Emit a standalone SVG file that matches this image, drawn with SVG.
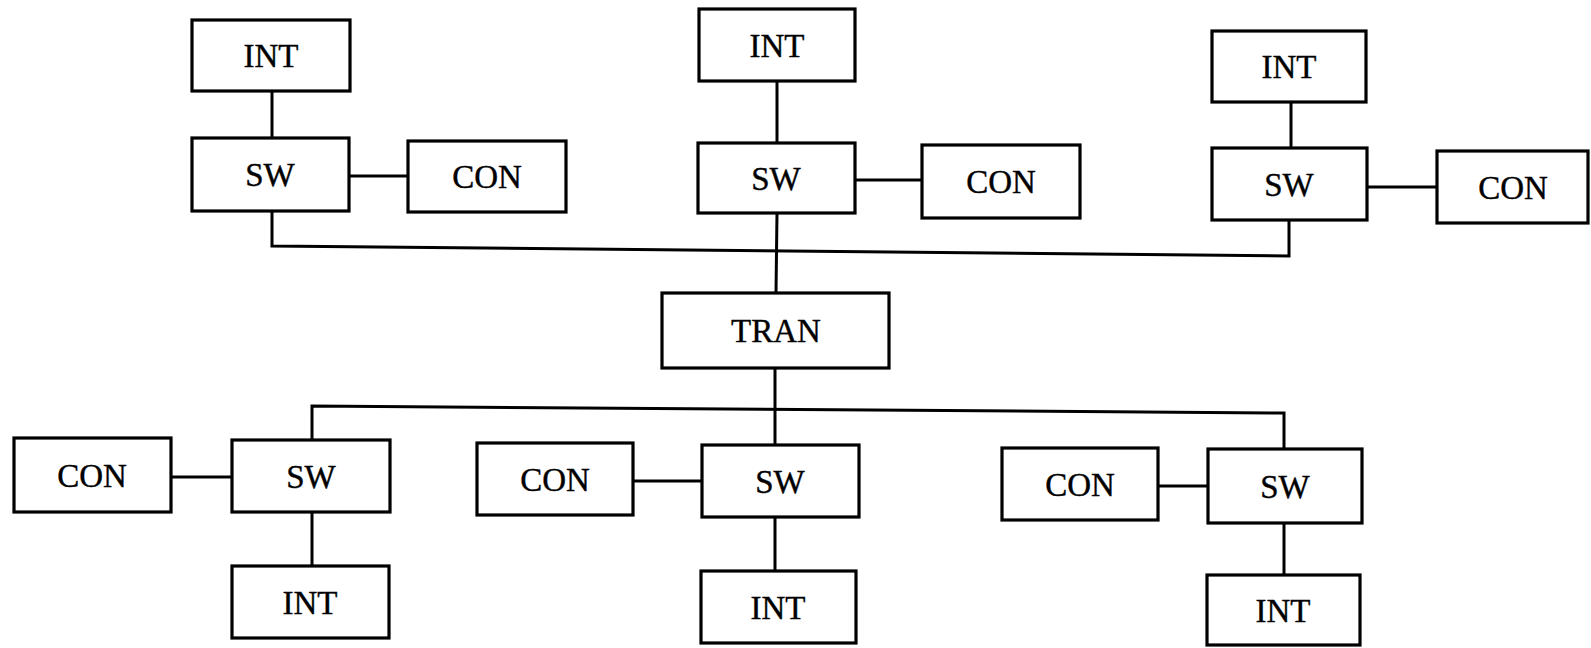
<svg xmlns="http://www.w3.org/2000/svg" width="1591" height="648" viewBox="0 0 1591 648">
  <style>
    .box { fill: #fff; stroke: #000; stroke-width: 3.2; }
    .lbl { font-family: "Liberation Serif", "Times New Roman", serif; font-size: 33px; fill: #000; stroke: #000; stroke-width: 0.4; text-anchor: middle; }
    .wire { fill: none; stroke: #000; stroke-width: 3; stroke-linejoin: miter; }
  </style>
  <rect width="1591" height="648" fill="#fff"/>

  <!-- links between units -->
  <g id="connectors">
    <line class="wire" x1="272" y1="91" x2="272" y2="138"/>
    <line class="wire" x1="349" y1="176" x2="408" y2="176"/>
    <line class="wire" x1="777" y1="81" x2="777" y2="143"/>
    <line class="wire" x1="855" y1="180" x2="922" y2="180"/>
    <line class="wire" x1="1291" y1="102" x2="1291" y2="148"/>
    <line class="wire" x1="1367" y1="187" x2="1437" y2="187"/>
    <!-- upper bus -->
    <polyline class="wire" points="272,211 272,246 1289,256 1289,220"/>
    <line class="wire" x1="777" y1="213" x2="776" y2="293"/>
    <line class="wire" x1="775" y1="368" x2="775" y2="445"/>
    <!-- lower bus -->
    <polyline class="wire" points="312,440 312,406 1284,413 1284,449"/>
    <line class="wire" x1="171" y1="477" x2="232" y2="477"/>
    <line class="wire" x1="312" y1="512" x2="312" y2="566"/>
    <line class="wire" x1="633" y1="481" x2="702" y2="481"/>
    <line class="wire" x1="775" y1="517" x2="775" y2="571"/>
    <line class="wire" x1="1158" y1="486" x2="1208" y2="486"/>
    <line class="wire" x1="1284" y1="523" x2="1284" y2="575"/>
  </g>

  <g id="int1"><rect class="box" x="192" y="20" width="158" height="71"/><text class="lbl" x="271" y="67">INT</text></g>
  <g id="sw1"><rect class="box" x="192" y="138" width="157" height="73"/><text class="lbl" x="270" y="186">SW</text></g>
  <g id="con1"><rect class="box" x="408" y="141" width="158" height="71"/><text class="lbl" x="487" y="188">CON</text></g>

  <g id="int2"><rect class="box" x="699" y="9" width="156" height="72"/><text class="lbl" x="777" y="57">INT</text></g>
  <g id="sw2"><rect class="box" x="698" y="143" width="157" height="70"/><text class="lbl" x="776" y="190">SW</text></g>
  <g id="con2"><rect class="box" x="922" y="145" width="158" height="73"/><text class="lbl" x="1001" y="193">CON</text></g>

  <g id="int3"><rect class="box" x="1212" y="31" width="154" height="71"/><text class="lbl" x="1289" y="78">INT</text></g>
  <g id="sw3"><rect class="box" x="1212" y="148" width="155" height="72"/><text class="lbl" x="1289" y="196">SW</text></g>
  <g id="con3"><rect class="box" x="1437" y="151" width="151" height="72"/><text class="lbl" x="1513" y="199">CON</text></g>

  <g id="tran"><rect class="box" x="662" y="293" width="227" height="75"/><text class="lbl" x="776" y="342">TRAN</text></g>

  <g id="con4"><rect class="box" x="14" y="438" width="157" height="74"/><text class="lbl" x="92" y="487">CON</text></g>
  <g id="sw4"><rect class="box" x="232" y="440" width="158" height="72"/><text class="lbl" x="311" y="488">SW</text></g>
  <g id="int4"><rect class="box" x="232" y="566" width="157" height="72"/><text class="lbl" x="310" y="614">INT</text></g>

  <g id="con5"><rect class="box" x="477" y="443" width="156" height="72"/><text class="lbl" x="555" y="491">CON</text></g>
  <g id="sw5"><rect class="box" x="702" y="445" width="157" height="72"/><text class="lbl" x="780" y="493">SW</text></g>
  <g id="int5"><rect class="box" x="701" y="571" width="155" height="72"/><text class="lbl" x="778" y="619">INT</text></g>

  <g id="con6"><rect class="box" x="1002" y="448" width="156" height="72"/><text class="lbl" x="1080" y="496">CON</text></g>
  <g id="sw6"><rect class="box" x="1208" y="449" width="154" height="74"/><text class="lbl" x="1285" y="498">SW</text></g>
  <g id="int6"><rect class="box" x="1207" y="575" width="153" height="70"/><text class="lbl" x="1283" y="622">INT</text></g>
</svg>
